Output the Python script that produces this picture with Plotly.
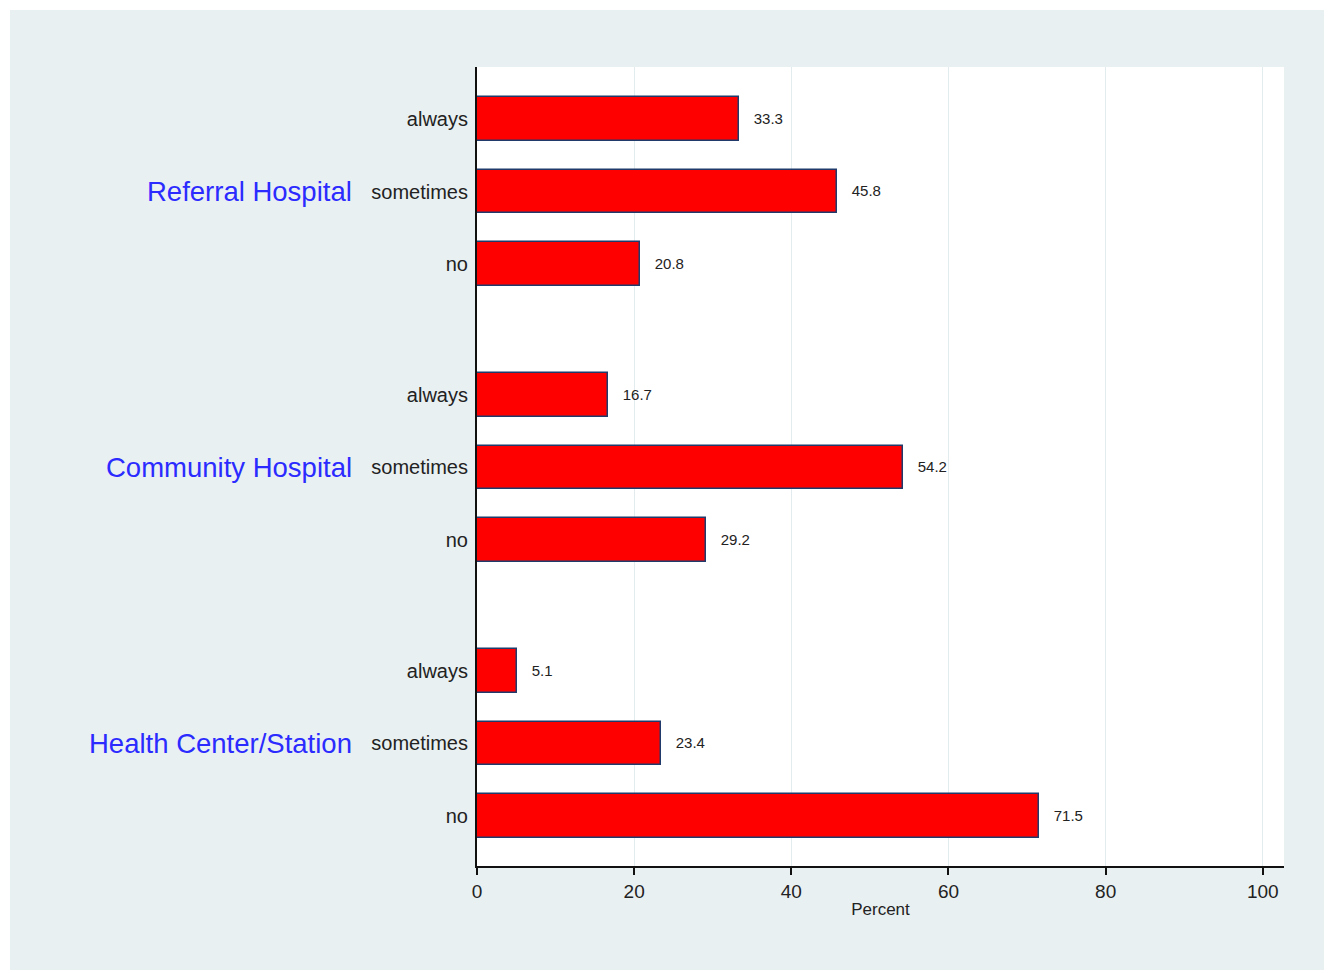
import plotly.graph_objects as go

groups = ["Referral Hospital", "Community Hospital", "Health Center/Station"]
responses = ["always", "sometimes", "no"]
values = [
    [33.3, 45.8, 20.8],
    [16.7, 54.2, 29.2],
    [5.1, 23.4, 71.5],
]
x_ticks = [0, 20, 40, 60, 80, 100]

GROUP_STEP = 3.8  # spacing between group starts (in bar slots)

ys, xs, labels = [], [], []
for g, grp in enumerate(groups):
    for i, r in enumerate(responses):
        ys.append(g * GROUP_STEP + i)
        xs.append(values[g][i])
        labels.append(r)

FONT = "Liberation Sans"
TXT = "#222222"

fig = go.Figure()
fig.add_trace(go.Bar(
    x=xs, y=ys, orientation="h", width=0.6,
    marker=dict(color="#ff0000", line=dict(color="#1f3a6b", width=1.5)),
    text=[f"{v:.1f}" for v in xs], textposition="outside",
    texttemplate="   %{text}",
    textfont=dict(family=FONT, size=15, color=TXT),
    cliponaxis=False, hoverinfo="skip",
))

annotations = []
for g, grp in enumerate(groups):
    annotations.append(dict(
        x=-0.152, xref="paper", y=g * GROUP_STEP + 1, yref="y",
        text=grp, showarrow=False, xanchor="right", yanchor="middle",
        font=dict(family=FONT, size=27.5, color="#2b2bff"),
    ))

fig.update_layout(
    width=1332, height=973,
    margin=dict(l=469, r=56, t=59, b=115),
    paper_bgcolor="white", plot_bgcolor="white",
    showlegend=False, bargap=0,
    annotations=annotations,
    shapes=[dict(
        type="rect", xref="paper", yref="paper",
        x0=-0.5787, x1=1.1, y0=-0.1302, y1=1.0713,
        fillcolor="#e9f0f2", line=dict(width=0), layer="below",
    ), dict(
        type="rect", xref="paper", yref="paper",
        x0=0, x1=1, y0=0, y1=1,
        fillcolor="white", line=dict(width=0), layer="below",
    )],
    xaxis=dict(
        range=[0, 102.7], tickvals=x_ticks, ticktext=[str(t) for t in x_ticks],
        showgrid=True, gridcolor="#e2ecee", gridwidth=1, zeroline=False,
        showline=True, linecolor="#111111", linewidth=2,
        ticks="outside", ticklen=7, tickwidth=1.5, tickcolor="#111111",
        tickfont=dict(family=FONT, size=19, color=TXT),
        title=dict(text="Percent", font=dict(family=FONT, size=17, color=TXT), standoff=2),
    ),
    yaxis=dict(
        range=[2 * GROUP_STEP + 2 + 0.69, -0.717],
        tickvals=ys, ticktext=labels,
        showgrid=False, zeroline=False,
        showline=True, linecolor="#111111", linewidth=2,
        ticks="", ticklabelstandoff=3,
        tickfont=dict(family=FONT, size=20, color=TXT),
    ),
)

fig.write_html("out.html")
